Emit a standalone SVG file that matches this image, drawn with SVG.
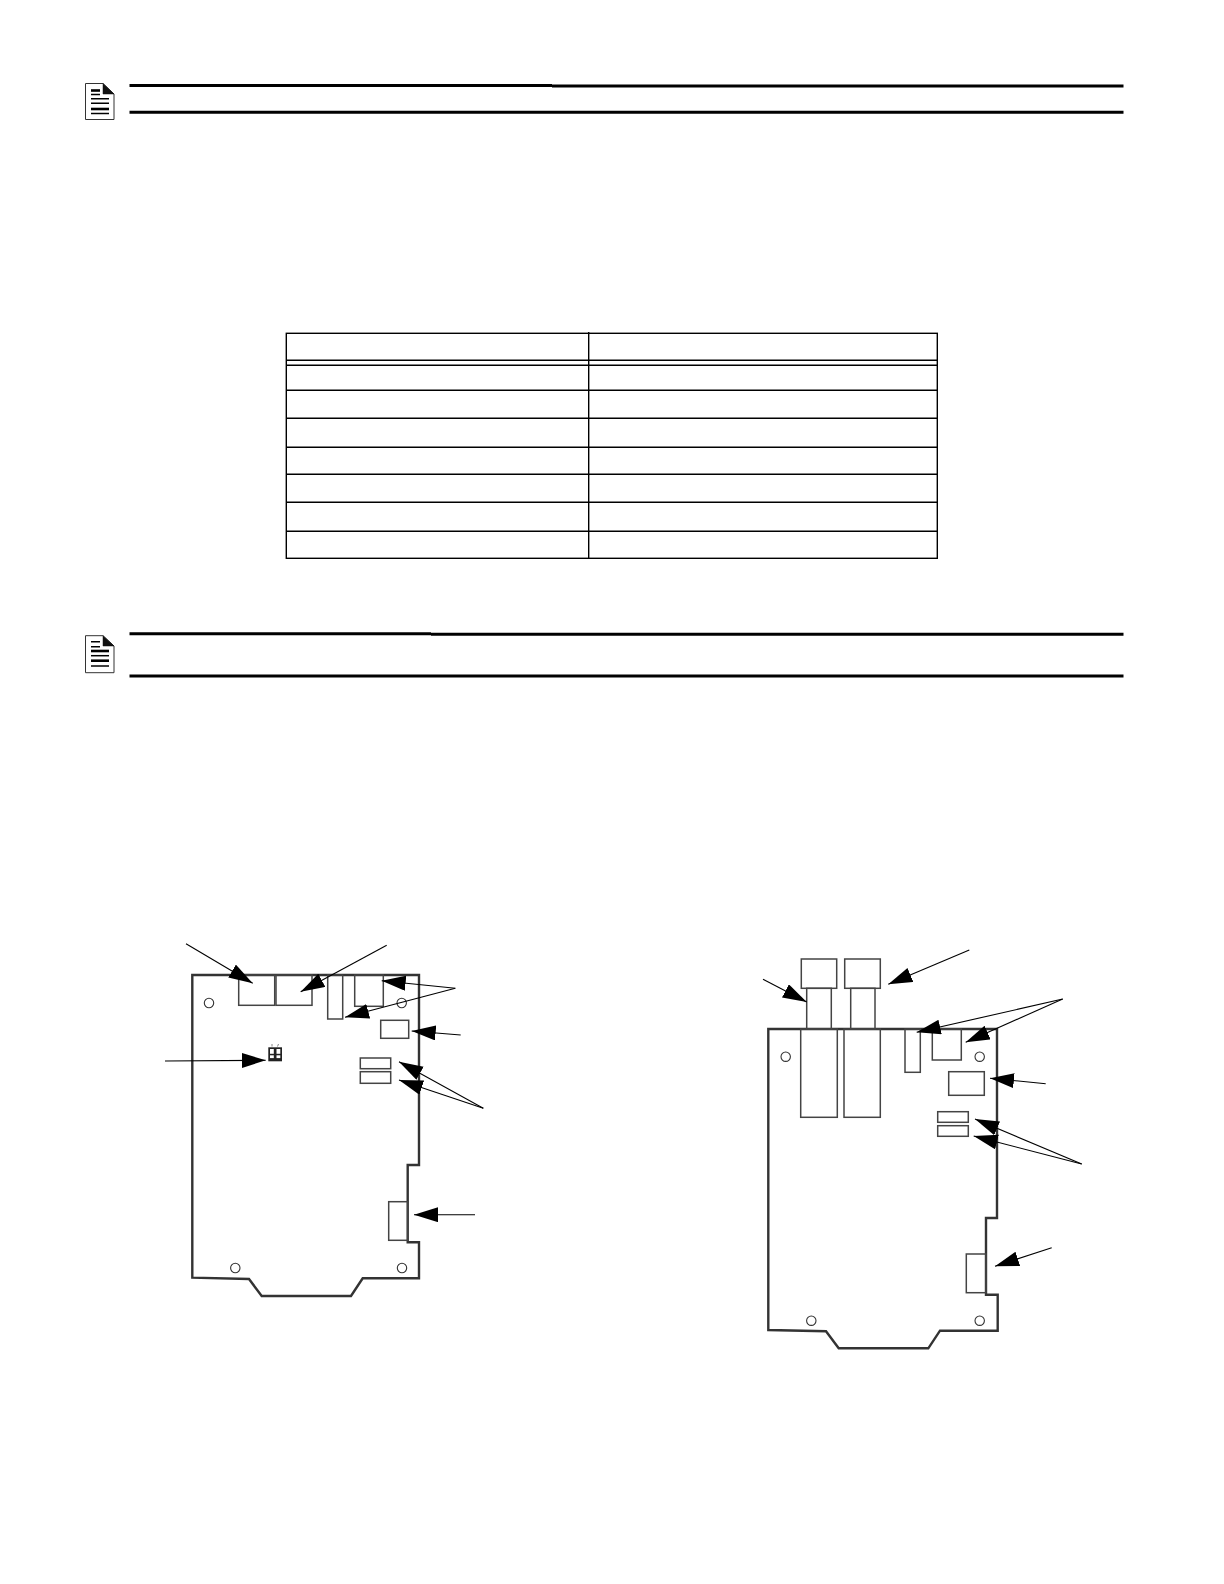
<svg xmlns="http://www.w3.org/2000/svg" width="1224" height="1584" viewBox="0 0 1224 1584">
<style>
.rule{stroke:#000;stroke-width:3;fill:none}
.grid{stroke:#000;stroke-width:1.4;fill:none}
.icon{fill:#fff;stroke:#333;stroke-width:1}
.fold{fill:#111;stroke:#111;stroke-width:.5}
.il{stroke:#000;stroke-width:1.5}
.ilt{stroke:#000;stroke-width:2.6}
.board{fill:none;stroke:#333;stroke-width:2.4;stroke-linejoin:miter}
.part{fill:none;stroke:#444;stroke-width:1.5}
.hole{fill:#fff;stroke:#333;stroke-width:1.1}
.conn line{stroke:#000;stroke-width:1.1;marker-end:url(#ah)}
</style>
<defs>
<marker id="ah" markerUnits="userSpaceOnUse" markerWidth="25" markerHeight="16" refX="24" refY="7.500" orient="auto">
<path d="M0 0L24 7.500L0 15z" fill="#000"/>
</marker>
</defs>
<rect width="1224" height="1584" fill="#fff"/>
<g id="note1">
<path class="icon" d="M85.500 83.500H103L114 94V119.500H85.500z"/>
<path class="fold" d="M103 83.500L114 94H103z"/>
<path class="ilt" d="M91 90.500H100"/><path class="il" d="M91 94.500H100M91 98.700H109M91 103.300H109"/><path class="ilt" d="M91 109H109"/><path class="il" d="M91 113.500H109"/>
<path class="rule" d="M129.500 85.500H552M552 86H1123.500M129.500 112.300H1123.500"/>
</g>
<g id="table">
<rect class="grid" x="286.300" y="333.300" width="651" height="225"/>
<path class="grid" d="M588.700 332V558.300M286.300 360.300H937.300M286.300 365.300H937.300M286.300 390.300H937.300M286.300 418.300H937.300M286.300 447.300H937.300M286.300 474.300H937.300M286.300 502.300H937.300M286.300 531.300H937.300"/>
</g>
<g id="note2">
<path class="icon" d="M85.500 635.700H103L114 646V672.700H85.500z"/>
<path class="fold" d="M103 635.700L114 646H103z"/>
<path class="il" d="M91 641.700H100M91 646.700H100"/><path class="ilt" d="M91 651H109"/><path class="il" d="M91 655.700H109"/><path class="ilt" d="M91 660.700H109"/><path class="il" d="M91 666H109"/>
<path class="rule" d="M129.500 633.700H431M431 634.200H1123.500M129.500 676H1123.500"/>
</g>
<g id="board-left">
<path class="board" d="M192.300 975H419V1165H407.700V1242.300H419V1278.300H362.700L351 1296H261.700L249 1279L192.300 1277.700z"/>
<rect class="part" x="238.700" y="975" width="36" height="30.300"/>
<rect class="part" x="276" y="975" width="36" height="30.300"/>
<rect class="part" x="327.700" y="975" width="15" height="44"/>
<rect class="part" x="354.700" y="975" width="28.600" height="31.300"/>
<rect class="part" x="380.700" y="1020.300" width="28" height="18"/>
<rect class="part" x="360.300" y="1058" width="30.400" height="10.700"/>
<rect class="part" x="360.300" y="1071.700" width="30.400" height="11.600"/>
<rect class="part" x="388.700" y="1201.700" width="19" height="38.600"/>
<circle class="hole" cx="209" cy="1003" r="4.700"/>
<circle class="hole" cx="401.700" cy="1003" r="4.700"/>
<circle class="hole" cx="235.300" cy="1268" r="4.700"/>
<circle class="hole" cx="402" cy="1268" r="4.700"/>
<g id="switch">
<rect x="268.300" y="1047.300" width="13.700" height="14" fill="#222"/>
<rect x="270" y="1049" width="3.800" height="4.800" fill="#fff"/><rect x="276.500" y="1049" width="3.800" height="4.800" fill="#fff"/>
<rect x="270" y="1055.300" width="3.800" height="2.800" fill="#fff"/><rect x="276.500" y="1055.300" width="3.800" height="2.800" fill="#fff"/>
<path d="M272 1046.500V1044M277.500 1046.500L278.500 1044" stroke="#666" stroke-width=".8"/>
</g>
</g>
<g id="board-right">
<path class="board" d="M768.300 1029H997V1218H986V1294.700H997.700V1330.700H940L928.300 1348.300H838.700L826 1331.300L768.300 1330z"/>
<rect class="part" x="801.300" y="959" width="35.400" height="29.300"/>
<rect class="part" x="844.700" y="959" width="35.600" height="29.300"/>
<rect class="part" x="806.700" y="988.300" width="24.600" height="40.700"/>
<rect class="part" x="850.700" y="988.300" width="24.300" height="40.700"/>
<rect class="part" x="800.700" y="1029" width="36.600" height="88.300"/>
<rect class="part" x="844" y="1029" width="36.300" height="88.300"/>
<rect class="part" x="905" y="1029" width="15.300" height="43.300"/>
<rect class="part" x="932.300" y="1029" width="29" height="31"/>
<rect class="part" x="948.700" y="1071.700" width="35.600" height="23.600"/>
<rect class="part" x="937.700" y="1111.700" width="30.600" height="10.600"/>
<rect class="part" x="937.700" y="1125.700" width="30.600" height="10.600"/>
<rect class="part" x="966.300" y="1254" width="19.700" height="38.700"/>
<circle class="hole" cx="785.700" cy="1056.700" r="4.700"/>
<circle class="hole" cx="979.700" cy="1056.700" r="4.700"/>
<circle class="hole" cx="811.300" cy="1320.700" r="4.700"/>
<circle class="hole" cx="979.700" cy="1320.700" r="4.700"/>
</g>
<g id="connectors" class="conn">
<line x1="186" y1="943.700" x2="252.700" y2="983.300"/>
<line x1="386.700" y1="945.300" x2="300.700" y2="991.700"/>
<line x1="455.300" y1="988.300" x2="381.700" y2="980.700"/>
<line x1="455.300" y1="988.300" x2="345" y2="1017.300"/>
<line x1="460.700" y1="1035" x2="411.700" y2="1031"/>
<line x1="483.300" y1="1108.300" x2="399" y2="1061.700"/>
<line x1="483.300" y1="1108.300" x2="399" y2="1080"/>
<line x1="165" y1="1061" x2="265.700" y2="1060.300"/>
<line x1="475" y1="1214.700" x2="414" y2="1214.700"/>
<line x1="763" y1="979.300" x2="806.700" y2="1002"/>
<line x1="969.300" y1="950" x2="888.300" y2="984.300"/>
<line x1="1062.700" y1="999" x2="916.700" y2="1032.300"/>
<line x1="1062.700" y1="999" x2="965.700" y2="1042.300"/>
<line x1="1045.700" y1="1083.700" x2="990" y2="1078.300"/>
<line x1="1081.700" y1="1164" x2="975" y2="1119"/>
<line x1="1081.700" y1="1164" x2="973.700" y2="1136"/>
<line x1="1051.700" y1="1247.700" x2="995" y2="1266.300"/>
</g>
</svg>
